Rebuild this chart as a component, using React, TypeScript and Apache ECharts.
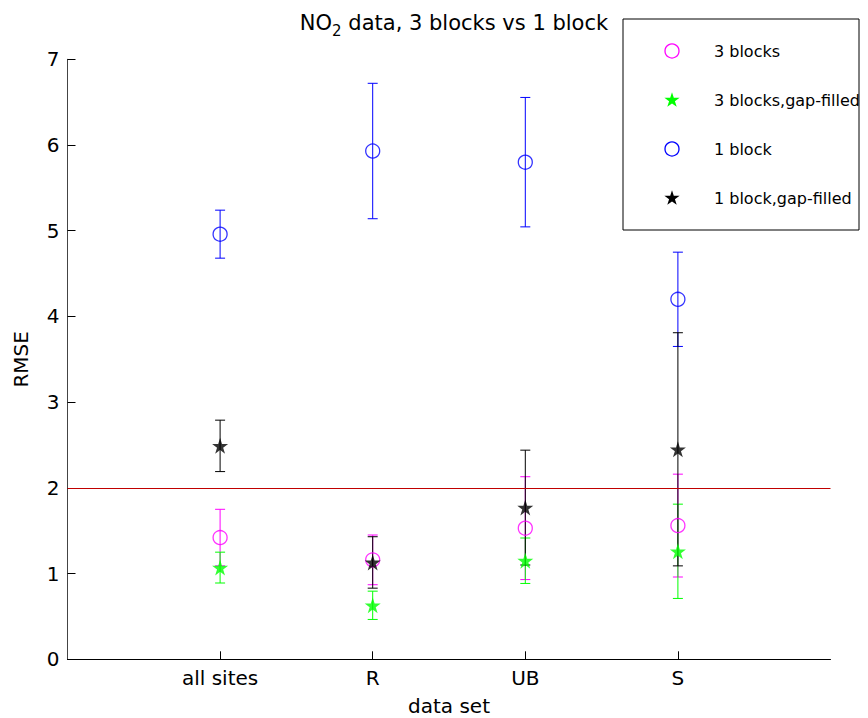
import React, { useEffect, useRef } from "react";
import * as echarts from "echarts";

const categories = ["all sites", "R", "UB", "S"];
const seriesNames = ["3 blocks", "3 blocks,gap-filled", "1 block", "1 block,gap-filled"];
const threeBlocks = [1.42, 1.16, 1.53, 1.56];
const threeBlocksErr = [0.33, 0.29, 0.6, 0.6];
const threeBlocksGap = [1.07, 0.63, 1.15, 1.26];
const threeBlocksGapErr = [0.18, 0.165, 0.265, 0.55];
const oneBlock = [4.96, 5.93, 5.8, 4.2];
const oneBlockErr = [0.28, 0.79, 0.755, 0.55];
const oneBlockGap = [2.49, 1.13, 1.77, 2.45];
const oneBlockGapErr = [0.3, 0.3, 0.67, 1.36];
const yTicks = [0, 1, 2, 3, 4, 5, 6, 7];
const threshold = 2;

const COLORS = ["#ff00ff", "#00ff00", "#0000ff", "#000000"];
const IS_STAR = [false, true, false, true];

const STAR_D =
  "M50,0 L61.2,34.5 L97.6,34.5 L68.2,55.9 L79.4,90.5 L50,69.1 L20.6,90.5 L31.8,55.9 L2.4,34.5 L38.8,34.5 Z";
const STAR = "path://" + STAR_D;
const FONT = "DejaVu Sans, Liberation Sans, Arial, sans-serif";

let starRegistered = false;
function ensureStar() {
  if (starRegistered) return;
  echarts.graphic.registerShape("star5", echarts.graphic.extendPath(STAR_D, {}) as any);
  starRegistered = true;
}

function errSeries(vals: number[], errs: number[], color: string) {
  return {
    type: "custom",
    silent: true,
    data: vals.map((v, i) => [i + 1, v, errs[i]]),
    encode: { x: 0, y: 1 },
    renderItem: (params: any, api: any) => {
      const x = api.value(0);
      const v = api.value(1);
      const e = api.value(2);
      const top = api.coord([x, v + e]);
      const bot = api.coord([x, v - e]);
      const hw = 5;
      const style = { stroke: color, lineWidth: 1 };
      return {
        type: "group",
        children: [
          { type: "line", shape: { x1: top[0], y1: top[1], x2: bot[0], y2: bot[1] }, style },
          { type: "line", shape: { x1: top[0] - hw, y1: top[1], x2: top[0] + hw, y2: top[1] }, style },
          { type: "line", shape: { x1: bot[0] - hw, y1: bot[1], x2: bot[0] + hw, y2: bot[1] }, style },
        ],
      };
    },
  };
}

function markerSeries(name: string, vals: number[], color: string, star: boolean) {
  return {
    type: "scatter",
    name,
    data: vals.map((v, i) => [i + 1, v]),
    symbol: star ? STAR : "circle",
    symbolSize: star ? 16 : 14,
    itemStyle: star
      ? { color, borderWidth: 0 }
      : { color: "rgba(255,255,255,0)", borderColor: color, borderWidth: 1.3 },
  };
}

function legendGraphics() {
  const out: any[] = [
    {
      type: "rect",
      z: 10,
      shape: { x: 623, y: 19, width: 236, height: 211 },
      style: { fill: "#fff", stroke: "#000", lineWidth: 1 },
    },
  ];
  seriesNames.forEach((name, i) => {
    const cy = 51 + i * 49;
    const cx = 672;
    if (IS_STAR[i]) {
      const s = 0.16;
      out.push({
        type: "star5",
        z: 11,
        x: cx - 50 * s,
        y: cy - 48 * s,
        scaleX: s,
        scaleY: s,
        style: { fill: COLORS[i], stroke: "none" },
      });
    } else {
      out.push({
        type: "circle",
        z: 11,
        shape: { cx, cy, r: 7 },
        style: { fill: "none", stroke: COLORS[i], lineWidth: 1.3 },
      });
    }
    out.push({
      type: "text",
      z: 11,
      x: 714,
      y: cy,
      style: {
        text: name,
        fontFamily: FONT,
        fontSize: 16,
        fill: "#000",
        verticalAlign: "middle",
        align: "left",
      },
    });
  });
  return out;
}

export default function App() {
  const ref = useRef<HTMLDivElement>(null);
  useEffect(() => {
    if (!ref.current) return;
    ensureStar();
    const chart = echarts.init(ref.current, null, { renderer: "svg" });
    chart.setOption({
      animation: false,
      backgroundColor: "#ffffff",
      textStyle: { fontFamily: FONT },
      title: {
        text: "NO{sub|2} data, 3 blocks vs 1 block",
        left: 449,
        textAlign: "center",
        top: 3,
        textStyle: {
          fontFamily: FONT,
          fontSize: 21,
          fontWeight: "normal",
          color: "#000",
          rich: {
            sub: { fontFamily: FONT, fontSize: 15, padding: [15, 0, 0, 0], color: "#000" },
          },
        },
      },
      graphic: legendGraphics(),
      grid: { left: 67.5, right: 37.5, top: 59.3, bottom: 58.7, outerBoundsMode: "none", containLabel: false },
      xAxis: {
        type: "value",
        min: 0,
        max: 5,
        interval: 1,
        name: "data set",
        nameLocation: "middle",
        nameGap: 37,
        nameTextStyle: { fontFamily: FONT, fontSize: 20, color: "#000" },
        splitLine: { show: false },
        axisLine: { lineStyle: { color: "#000", width: 1 } },
        axisTick: { inside: true, length: 8, lineStyle: { color: "#000" }, customValues: [1, 2, 3, 4] },
        axisLabel: {
          customValues: [1, 2, 3, 4],
          margin: 9,
          fontFamily: FONT,
          fontSize: 20,
          color: "#000",
          formatter: (v: number) => categories[Math.round(v) - 1] ?? "",
        },
      },
      yAxis: {
        type: "value",
        min: yTicks[0],
        max: yTicks[yTicks.length - 1],
        interval: 1,
        name: "RMSE",
        nameLocation: "middle",
        nameGap: 37,
        nameTextStyle: { fontFamily: FONT, fontSize: 20, color: "#000" },
        splitLine: { show: false },
        axisLine: { show: true, lineStyle: { color: "#444", width: 1 } },
        axisTick: { show: true, inside: true, length: 8, lineStyle: { color: "#000" } },
        axisLabel: { margin: 8, fontFamily: FONT, fontSize: 20, color: "#000" },
      },
      series: [
        {
          type: "line",
          data: [],
          silent: true,
          markLine: {
            silent: true,
            symbol: ["none", "none"],
            label: { show: false },
            lineStyle: { color: "#c00000", width: 1, type: "solid" },
            data: [{ yAxis: threshold }],
          },
        },
        errSeries(threeBlocks, threeBlocksErr, COLORS[0]),
        markerSeries(seriesNames[0], threeBlocks, COLORS[0], IS_STAR[0]),
        errSeries(threeBlocksGap, threeBlocksGapErr, COLORS[1]),
        markerSeries(seriesNames[1], threeBlocksGap, COLORS[1], IS_STAR[1]),
        errSeries(oneBlock, oneBlockErr, COLORS[2]),
        markerSeries(seriesNames[2], oneBlock, COLORS[2], IS_STAR[2]),
        errSeries(oneBlockGap, oneBlockGapErr, COLORS[3]),
        markerSeries(seriesNames[3], oneBlockGap, COLORS[3], IS_STAR[3]),
      ],
    });
    return () => chart.dispose();
  }, []);
  return <div ref={ref} style={{ width: 868, height: 718, position: "absolute", left: 0, top: 0 }} />;
}
